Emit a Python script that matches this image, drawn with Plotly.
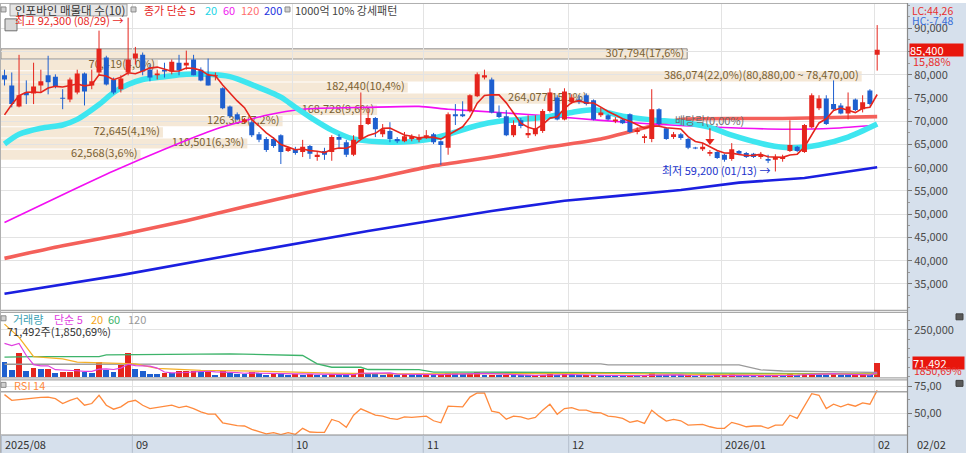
import plotly.graph_objects as go

# ---------------- data ----------------
month_labels = ["2025/08", "09", "10", "11", "12", "2026/01", "02"]
month_start = [0, 18, 40, 58, 78, 99, 120]
last_date_label = "02/02"

open_ = [79900, 77700, 73200, 76200, 76000, 77700, 79900, 79600, 75000, 74700,
         76200, 80300, 77700, 80500, 83700, 79000, 76900, 80500, 83500, 84300,
         81100, 79900, 81100, 80700, 82600, 82000, 83300, 81100, 79900, 79700,
         77100, 73200, 71500, 69800, 69800, 67200, 66200, 66200, 67000, 63600,
         64000, 63400, 64700, 62300, 63600, 63400, 66600, 65500, 62800, 66200,
         69400, 70700, 67200, 67900, 66200, 65700, 66200, 66000, 66400, 67200,
         65700, 64300, 71500, 71500, 72200, 75400, 79400, 79000, 71900, 71100,
         67000, 70200, 67000, 67200, 67900, 72200, 75100, 70400, 74100, 74700,
         75600, 74500, 71300, 71300, 70000, 70400, 71500, 67700, 66400, 66200,
         72600, 68500, 66600, 67200, 66200, 64300, 64000, 63000, 63400, 62800,
         61900, 63600, 63200, 63000, 62300, 61900, 61700, 61900, 63600, 64500,
         63400, 68700, 72800, 74900, 73700, 73400, 71700, 74700, 72600, 76600,
         84300]
high = [81100, 80500, 84300, 78800, 82600, 81100, 84100, 80100, 76900, 79400,
        81100, 80500, 81100, 89500, 84100, 79400, 79900, 92300, 86000, 84800,
        82200, 81100, 82600, 83300, 84300, 85200, 84300, 81600, 83500, 80500,
        77300, 73400, 71900, 70700, 70200, 67700, 66600, 66600, 67200, 64500,
        64500, 66000, 64900, 63600, 64300, 67000, 67200, 66000, 67000, 76200,
        72600, 70900, 69400, 69800, 66600, 67700, 67200, 67200, 68100, 67500,
        65900, 71900, 73700, 74300, 75800, 80500, 81100, 79400, 73400, 72400,
        70200, 70700, 71300, 71300, 72600, 77100, 75600, 77100, 75800, 75600,
        76000, 74700, 73000, 71500, 70900, 70700, 71700, 68700, 67200, 76900,
        72800, 68700, 67700, 67500, 66400, 64500, 65300, 63800, 63600, 63000,
        65300, 63800, 63400, 63200, 63400, 62800, 62900, 62800, 70200, 64700,
        69400, 76000, 75600, 75600, 78800, 73900, 76200, 74900, 75600, 76900,
        90700]
low = [77700, 73000, 73000, 73700, 73700, 76200, 75800, 77100, 72600, 74100,
       75800, 73400, 76900, 79900, 77700, 75800, 76200, 79900, 82200, 79900,
       78600, 79000, 79400, 80100, 79900, 81100, 79900, 78600, 77700, 78800,
       72600, 70700, 70200, 69600, 66600, 65500, 63400, 64300, 60800, 63400,
       62800, 62300, 61900, 61500, 61700, 61500, 64000, 62300, 62500, 66000,
       69200, 66600, 66600, 65500, 65300, 65500, 65700, 65500, 66200, 65100,
       60600, 62800, 69200, 70900, 71900, 75200, 79000, 71700, 70700, 66800,
       66600, 68500, 66400, 66800, 67500, 71900, 70200, 70200, 73700, 73700,
       73400, 70200, 70900, 70200, 69600, 69400, 67500, 67200, 65300, 65500,
       69000, 66000, 66200, 66000, 64000, 64000, 63600, 62500, 61900, 61300,
       61500, 62800, 62100, 62100, 61900, 61000, 59200, 61300, 63400, 63400,
       63200, 68500, 72400, 69200, 72400, 71500, 70400, 72200, 71900, 73400,
       80900]
close = [79000, 73700, 75600, 75600, 77500, 78600, 78400, 77500, 74900, 79000,
         80300, 76400, 78600, 85600, 77900, 76200, 79200, 83300, 84600, 80700,
         79400, 80300, 80700, 82800, 80900, 82600, 79900, 78800, 77700, 79900,
         72800, 71100, 70400, 70400, 67000, 66000, 63800, 64700, 63400, 64300,
         63200, 64500, 63000, 62800, 62800, 66600, 66000, 62800, 66000, 69200,
         70700, 68300, 68300, 66200, 65700, 66800, 66800, 66600, 67000, 65500,
         64900, 71500, 71100, 71100, 75600, 80100, 79900, 71900, 70900, 67000,
         69200, 69000, 67500, 68500, 72200, 76200, 70400, 76400, 75100, 74100,
         73700, 70400, 71900, 70400, 70400, 69600, 67700, 68100, 66800, 72600,
         69400, 66200, 67200, 66400, 64300, 64200, 64500, 63400, 62100, 61700,
         64000, 63000, 62300, 62300, 62800, 61500, 62300, 62300, 64900, 63600,
         69200, 75600, 74900, 69400, 72600, 71700, 73200, 72400, 74100, 73700,
         85400]
prior_close = [62600, 66000, 72000, 77250]   # closes just before the window (MA5 warm-up)

volume = [76000, 37000, 124000, 32000, 46000, 41000, 42000, 19000, 23000, 27000,
          41000, 27000, 19000, 80000, 36000, 23000, 64000, 124000, 41000, 32000,
          14000, 13000, 18000, 17000, 28000, 29000, 30000, 23000, 28000, 11000,
          28000, 18000, 14000, 13000, 23000, 18000, 11000, 17000, 14000, 11000,
          14000, 10000, 12000, 9000, 8000, 13000, 9000, 8000, 12000, 43000,
          17000, 13000, 10000, 12000, 8000, 13000, 11000, 9000, 10000, 8000,
          9000, 21000, 17000, 13000, 18000, 22000, 9000, 10000, 6000, 8000,
          7000, 5000, 4000, 6000, 11000, 14000, 8000, 12000, 6000, 5000,
          6000, 7000, 5000, 4000, 3500, 3000, 5000, 3500, 4500, 18000,
          8000, 5000, 4000, 3500, 4500, 3000, 3500, 3000, 4000, 4500,
          13000, 6000, 4500, 4000, 4500, 3500, 5500, 4500, 12000, 6000,
          17000, 18000, 10000, 8000, 21000, 7000, 6000, 7000, 10000, 3863,
          71492]
prior_volume = [97000, 64000, 357000, 291000]

rsi14 = [67.3, 62.0, 62.7, 63.5, 64.5, 64.8, 65.0, 63.6, 59.0, 62.0,
         64.2, 57.4, 59.0, 66.7, 57.4, 53.7, 55.9, 60.5, 62.0, 57.4,
         54.3, 55.2, 56.5, 57.4, 55.2, 56.5, 54.3, 51.2, 49.0, 49.0,
         41.0, 39.8, 38.3, 38.0, 34.9, 32.7, 30.6, 31.8, 30.0, 31.8,
         30.2, 35.8, 32.4, 32.1, 32.1, 44.1, 42.0, 36.8, 48.1, 54.0,
         51.2, 48.1, 47.2, 45.1, 44.2, 46.6, 46.0, 46.6, 47.2, 42.9,
         41.0, 56.5, 55.9, 55.9, 65.0, 68.8, 68.8, 51.9, 50.6, 44.4,
         47.2, 46.6, 44.4, 46.0, 52.8, 58.3, 49.0, 54.3, 55.2, 52.8,
         52.8, 50.6, 50.3, 47.2, 46.6, 45.1, 41.4, 42.9, 40.4, 52.8,
         47.2, 42.6, 44.1, 42.9, 38.9, 38.9, 39.5, 37.3, 35.8, 35.8,
         41.4, 39.5, 37.3, 38.0, 38.0, 35.8, 38.9, 38.9, 48.1, 45.1,
         56.5, 68.2, 66.7, 54.3, 58.3, 55.9, 58.3, 56.5, 59.5, 58.3,
         71.3]

# moving averages (index, value)
ma20_idx = [0, 2, 5, 8, 10, 13, 15, 17, 19, 22, 25, 28, 31, 34, 38, 40, 42, 45, 48, 53,
            58, 61, 65, 68, 74, 78, 81, 85, 89, 93, 97, 100, 105, 108, 112, 116, 120]
ma20_val = [65100, 67200, 68500, 69200, 70400, 73600, 76200, 77900, 79000, 79600,
            80100, 80100, 79600, 77900, 75200, 73000, 70900, 68100, 66200, 65500,
            66000, 67200, 69100, 70000, 70800, 71900, 72500, 71100, 70300, 69800,
            68700, 67000, 64900, 64300, 64900, 66600, 69400]
ma60_idx = [0, 8, 15, 22, 29, 36, 41, 50, 57, 61, 68, 75, 82, 89, 98, 107, 114, 120]
ma60_val = [48200, 54200, 59300, 64000, 68300, 71300, 72600, 73000, 73200, 72600,
            71900, 71100, 70200, 69400, 68700, 68300, 68500, 69200]
ma120_idx = [0, 8, 16, 25, 33, 42, 50, 59, 67, 75, 82, 89, 93, 101, 107, 114, 120]
ma120_val = [40500, 43200, 45600, 48600, 51600, 54800, 57400, 60400, 62300, 64500,
             66200, 69000, 70400, 70600, 70600, 70800, 71000]
ma200_idx = [0, 16, 33, 50, 67, 77, 84, 93, 101, 110, 120]
ma200_val = [32900, 36900, 41700, 46400, 50700, 52900, 53900, 55200, 56800, 57800, 60100]

vma20_idx = [0, 2, 4, 8, 10, 13, 18, 21, 27, 36, 45, 54, 65, 82, 96, 109, 120]
vma20_val = [280000, 209000, 106000, 94000, 76000, 73000, 67000, 43000, 32000, 27000,
             18000, 14000, 14000, 16000, 11000, 13000, 14000]
vma60_idx = [0, 4, 13, 14, 31, 41, 43, 45, 49, 50, 57, 59, 65, 82, 101, 120]
vma60_val = [103000, 106000, 106000, 115000, 121000, 112000, 67000, 49000, 49000, 37000,
             36000, 23000, 23000, 19000, 16000, 13000]
vma120_idx = [0, 82, 83, 101, 104, 107, 117, 120]
vma120_val = [65000, 67000, 62000, 62000, 35000, 29000, 23000, 21000]

# volume profile (매물대) bands
band_top = [85700, 83290, 80880, 78470, 76060, 73650, 71240, 68830, 66420, 64010]
band_bot = [83290, 80880, 78470, 76060, 73650, 71240, 68830, 66420, 64010, 61600]
band_vol = [307794, 70419, 386074, 182440, 264077, 168728, 126305, 72645, 110501, 62568]

high_date = "08/29"
low_date = "01/13"
dividend_idx = 97
dividend_text = "배당락(0,00%)"

# ---------------- helpers ----------------
W, H = 966, 453
ML, MR, MT, MB = 1, 59, 0, 18
PW, PH = W - ML - MR, H - MT - MB
XR = [-0.48, 124.1]
YR1 = [29420, 95450]
YR2 = [-5320, 340480]
YR3 = [29.6, 80.6]
FONT = "Noto Sans CJK KR"

RED = "#E5251D"
BLUE = "#1E5FCF"


def px2x(px):
    return (px - ML) / PW


def py2y(py):
    return (PH - (py - MT)) / PH


def price_at(py):
    # price value at a pixel row of the price panel (panel spans py 0..309)
    return YR1[1] - (py / 309.0) * (YR1[1] - YR1[0])


def kfmt(v, d=0, sep=True):
    s = f"{v:,.{d}f}" if sep else f"{v:.{d}f}"
    return s.replace(".", "#").replace("#", ",")


n = len(close)
idx = list(range(n))

# MA5 of closes / volumes
cl_all = prior_close + close
ma5 = [sum(cl_all[i:i + 5]) / 5 for i in range(n)]
vol_all = prior_volume + volume
vma5 = [sum(vol_all[i:i + 5]) / 5 for i in range(n)]

fig = go.Figure()

# band labels (drawn first so candles sit on top)
tot = sum(band_vol)
vmax = max(band_vol)
band_frac = [0.950 * v / vmax for v in band_vol]
lab_x, lab_y, lab_t = [], [], []
for t, b, v, f in zip(band_top, band_bot, band_vol, band_frac):
    txt = f"{v:,}({kfmt(v / tot * 100, 1)}%)"
    if v == vmax:
        txt += f"({kfmt(t, 2)} ~ {kfmt(b, 2)})"
    lab_x.append(XR[0] + (f - 3.0 / PW) * (XR[1] - XR[0]))
    lab_y.append((t + b) / 2)
    lab_t.append(txt)
fig.add_trace(go.Scatter(x=lab_x, y=lab_y, text=lab_t, mode="text",
                         textposition="middle left",
                         textfont=dict(family=FONT, size=11, color="#7A6133"),
                         hoverinfo="skip", xaxis="x", yaxis="y"))

# moving averages (price)
fig.add_trace(go.Scatter(x=ma200_idx, y=ma200_val, mode="lines",
                         line=dict(color="#1B1FE0", width=2.6), xaxis="x", yaxis="y"))
fig.add_trace(go.Scatter(x=ma120_idx, y=ma120_val, mode="lines",
                         line=dict(color="#F4605A", width=3.6, shape="spline", smoothing=0.6),
                         xaxis="x", yaxis="y"))
fig.add_trace(go.Scatter(x=ma60_idx, y=ma60_val, mode="lines",
                         line=dict(color="#F20FF2", width=1.6, shape="spline", smoothing=0.6),
                         xaxis="x", yaxis="y"))
fig.add_trace(go.Scatter(x=ma20_idx, y=ma20_val, mode="lines",
                         line=dict(color="#3EE6F0", width=5.5, shape="spline", smoothing=0.8),
                         xaxis="x", yaxis="y"))


def segs(ids, a, b, minlen=0):
    X, Y = [], []
    for i in ids:
        lo, hi = min(a[i], b[i]), max(a[i], b[i])
        if hi - lo < minlen:
            m = (hi + lo) / 2
            lo, hi = m - minlen / 2, m + minlen / 2
        X += [i, i, None]
        Y += [lo, hi, None]
    return X, Y


up = [i for i in idx if close[i] >= open_[i]]
dn = [i for i in idx if close[i] < open_[i]]
for ids, col in ((up, RED), (dn, BLUE)):
    X, Y = segs(ids, low, high)
    fig.add_trace(go.Scatter(x=X, y=Y, mode="lines", line=dict(color=col, width=1),
                             xaxis="x", yaxis="y", hoverinfo="skip"))
    X, Y = segs(ids, open_, close, minlen=220)
    fig.add_trace(go.Scatter(x=X, y=Y, mode="lines", line=dict(color=col, width=5),
                             xaxis="x", yaxis="y", hoverinfo="skip"))

fig.add_trace(go.Scatter(x=idx, y=ma5, mode="lines", line=dict(color=RED, width=1.6),
                         xaxis="x", yaxis="y"))

# dividend marker
fig.add_trace(go.Scatter(x=[dividend_idx, dividend_idx], y=[price_at(126), price_at(139)],
                         mode="lines", line=dict(color=RED, width=1.2), xaxis="x", yaxis="y"))
fig.add_trace(go.Scatter(x=[dividend_idx], y=[price_at(139)], mode="markers",
                         marker=dict(symbol="triangle-down", size=8, color=RED),
                         xaxis="x", yaxis="y"))

# volume panel
prev = [prior_volume[-1]] + volume[:-1]
vcol = [RED if v >= p else BLUE for v, p in zip(volume, prev)]
fig.add_trace(go.Bar(x=idx, y=volume, marker=dict(color=vcol, line=dict(width=0)),
                     width=0.8, xaxis="x2", yaxis="y2"))
fig.add_trace(go.Scatter(x=vma120_idx, y=vma120_val, mode="lines",
                         line=dict(color="#9A9A9A", width=1.3), xaxis="x2", yaxis="y2"))
fig.add_trace(go.Scatter(x=vma60_idx, y=vma60_val, mode="lines",
                         line=dict(color="#3DB36A", width=1.3), xaxis="x2", yaxis="y2"))
fig.add_trace(go.Scatter(x=vma20_idx, y=vma20_val, mode="lines",
                         line=dict(color="#F5B028", width=1.3), xaxis="x2", yaxis="y2"))
fig.add_trace(go.Scatter(x=idx, y=vma5, mode="lines",
                         line=dict(color="#E040E0", width=1.2), xaxis="x2", yaxis="y2"))

# RSI panel
fig.add_trace(go.Scatter(x=idx, y=rsi14, mode="lines",
                         line=dict(color="#FF8A3D", width=1.3), xaxis="x3", yaxis="y3"))

# ---------------- layout ----------------
gridc = "#E3E3E3"
mpos = [m - 0.42 for m in month_start]
xcommon = dict(range=XR, showgrid=True, gridcolor=gridc, gridwidth=1, tickmode="array",
               tickvals=mpos, showticklabels=False, ticks="", zeroline=False,
               showline=False, fixedrange=True, domain=[0, 1])
tickfont = dict(family=FONT, size=11, color="#4A4A4A")
ycommon = dict(side="right", showgrid=True, gridcolor=gridc, zeroline=False, showline=False,
               ticks="outside", ticklen=4, tickcolor="#777", tickfont=tickfont, fixedrange=True)

ptick = list(range(35000, 95000, 5000))
ptext = ["" if v == 85000 else f"{v:,}" for v in ptick]

fig.update_layout(
    width=W, height=H, margin=dict(l=ML, r=MR, t=MT, b=MB),
    paper_bgcolor="white", plot_bgcolor="white", showlegend=False,
    font=dict(family=FONT, size=11),
    bargap=0,
    xaxis=dict(**xcommon, anchor="y"),
    xaxis2=dict(**xcommon, anchor="y2", matches="x"),
    xaxis3=dict(**xcommon, anchor="y3", matches="x"),
    yaxis=dict(**ycommon, anchor="x", domain=[py2y(309), 1], range=YR1,
               tickmode="array", tickvals=ptick, ticktext=ptext,
               minor=dict(ticks="outside", ticklen=2, tickcolor="#999", dtick=2500,
                          showgrid=False)),
    yaxis2=dict(**ycommon, anchor="x2", domain=[py2y(377), py2y(312)], range=YR2,
                tickmode="array", tickvals=[250000], ticktext=["250,000"],
                minor=dict(ticks="outside", ticklen=2, tickcolor="#999", dtick=50000,
                           showgrid=False)),
    yaxis3=dict(**ycommon, anchor="x3", domain=[0, py2y(380)], range=YR3,
                tickmode="array", tickvals=[50, 75], ticktext=["50,00", "75,00"],
                minor=dict(ticks="outside", ticklen=2, tickcolor="#999", dtick=12.5,
                           showgrid=False)),
)

shapes = []
PANEL = "#D6E0EC"
# right axis panel and bottom date band
shapes.append(dict(type="rect", xref="paper", yref="paper", x0=px2x(907), x1=px2x(967),
                   y0=py2y(454), y1=py2y(0), fillcolor=PANEL, line=dict(width=0), layer="below"))
shapes.append(dict(type="rect", xref="paper", yref="paper", x0=px2x(0), x1=px2x(907),
                   y0=py2y(454), y1=py2y(435), fillcolor=PANEL, line=dict(width=0), layer="below"))
# volume-profile bands
last_close = close[-1]
for t, b, f in zip(band_top, band_bot, band_frac):
    bordered = b <= last_close < t
    shapes.append(dict(type="rect", xref="x domain", yref="y", x0=0, x1=f,
                       y0=b + 110, y1=t - 110, fillcolor="#F5E8D6",
                       line=dict(color="#8F8F8F", width=1) if bordered else dict(width=0),
                       layer="below"))
# RSI 70 reference
shapes.append(dict(type="line", xref="x3 domain", yref="y3", x0=0, x1=1, y0=70, y1=70,
                   line=dict(color="#A6A6A6", width=1.5)))
# panel separators
for py, c, w in ((0.5, "#B0B0B0", 1), (309.5, "#A8A8A8", 1.2), (311.5, "#A8A8A8", 1.2),
                 (377.5, "#A8A8A8", 1.2), (379.5, "#A8A8A8", 1.2), (435, "#8A8A8A", 1.2)):
    shapes.append(dict(type="line", xref="paper", yref="paper", x0=px2x(0), x1=px2x(907),
                       y0=py2y(py), y1=py2y(py), line=dict(color=c, width=w)))
shapes.append(dict(type="line", xref="paper", yref="paper", x0=px2x(907.5), x1=px2x(907.5),
                   y0=py2y(453), y1=py2y(0), line=dict(color="#8A8A8A", width=1.2)))
shapes.append(dict(type="line", xref="paper", yref="paper", x0=px2x(0.5), x1=px2x(0.5),
                   y0=py2y(453), y1=py2y(0), line=dict(color="#B0B0B0", width=1)))
# month separators in the date band
for m in mpos:
    shapes.append(dict(type="line", xref="x3", yref="paper", x0=m, x1=m,
                       y0=py2y(453), y1=py2y(435), line=dict(color="#B4BECC", width=1)))
# small legend icons
for (x0, y0) in ((1, 4), (131, 4), (285, 4), (1, 315), (1, 382)):
    shapes.append(dict(type="rect", xref="paper", yref="paper", x0=px2x(x0), x1=px2x(x0 + 5),
                       y0=py2y(y0 + 5), y1=py2y(y0), fillcolor="#D0D0D0",
                       line=dict(color="#8A8A8A", width=1)))
for (x0, y0) in ((956, 313), (956, 380)):
    shapes.append(dict(type="rect", xref="paper", yref="paper", x0=px2x(x0), x1=px2x(x0 + 7),
                       y0=py2y(y0 + 6), y1=py2y(y0), fillcolor="#5A5A5A",
                       line=dict(color="#404040", width=1)))
shapes.append(dict(type="rect", xref="paper", yref="paper", x0=px2x(10), x1=px2x(127),
                   y0=py2y(13), y1=py2y(1), fillcolor="#E6E6E6", line=dict(color="#A0A0A0", width=1)))
shapes.append(dict(type="rect", xref="paper", yref="paper", x0=px2x(5), x1=px2x(17),
                   y0=py2y(28), y1=py2y(16), fillcolor="#D8D8D8", line=dict(color="#707070", width=1)))
fig.update_layout(shapes=shapes)

ann = []


def A(text, px, py, color="#333", size=11, xanchor="left", **kw):
    d = dict(text=text, xref="paper", yref="paper", x=px2x(px), y=py2y(py), showarrow=False,
             xanchor=xanchor, yanchor="middle", font=dict(family=FONT, size=size, color=color))
    d.update(kw)
    ann.append(d)


# top legend
A("인포바인 매물대 수(10)", 13, 7, "#333", 11.5)
A("종가 단순 5", 142, 7, RED)
A("20", 203, 7, "#22D5E6")
A("60", 221, 7, "#F020F0")
A("120", 239, 7, "#FF6E6E")
A("200", 262, 7, "#2232E0")
A("1000억 10% 강세패턴", 293, 7, "#444")

# volume legend
A("거래량", 11, 318, "#3A9FB3")
A("단순 5", 52, 318, "#E040E0")
A("20", 89, 318, "#F5A623")
A("60", 106, 318, "#3DB36A")
A("120", 126, 318, "#999999")
vratio = volume[-1] / volume[-2] * 100
A(f"{volume[-1]:,}주({kfmt(vratio, 2)}%)", 5, 330, "#333")

# RSI legend
A("RSI 14", 12, 385, "#FF8A3D")

# high / low annotations
ih = max(idx, key=lambda i: high[i])
il = min(idx, key=lambda i: low[i])
ann.append(dict(text=f"최고 {high[ih]:,} ({high_date}) →", xref="x", yref="y", x=ih - 0.45,
                y=price_at(17), xanchor="right", yanchor="middle", showarrow=False,
                font=dict(family=FONT, size=11, color="#E8281E")))
ann.append(dict(text=f"최저 {low[il]:,} ({low_date}) →", xref="x", yref="y", x=il - 0.45,
                y=price_at(168), xanchor="right", yanchor="middle", showarrow=False,
                font=dict(family=FONT, size=11, color="#2233CC")))
ann.append(dict(text=dividend_text, xref="x", yref="y", x=dividend_idx, y=price_at(118),
                xanchor="center", yanchor="middle", showarrow=False,
                font=dict(family=FONT, size=11, color="#6E6E6E")))

# right panel texts
lc = (close[-1] / low[il] - 1) * 100
hc = (close[-1] / high[ih] - 1) * 100
A(f"LC:{kfmt(lc, 2)}", 910, 7.5, "#E83030", size=10.5)
A(f"HC:{kfmt(hc, 2)}", 910, 18, "#3A6FD8", size=10.5)
chg = (close[-1] / close[-2] - 1) * 100
ann.append(dict(text=f"{close[-1]:,}", xref="paper", yref="y", x=px2x(909), y=close[-1],
                xanchor="left", yanchor="middle", showarrow=False, align="left",
                width=53, height=12, bgcolor="#E8160C", borderpad=0,
                font=dict(family=FONT, size=11, color="white")))
A(f"{kfmt(chg, 2)}%", 911, 58, "#E83030")
ann.append(dict(text=f"{volume[-1]:,}", xref="paper", yref="y2", x=px2x(912), y=volume[-1],
                xanchor="left", yanchor="middle", showarrow=False, align="left",
                width=51, height=12, bgcolor="#E8160C", borderpad=0,
                font=dict(family=FONT, size=11, color="white")))
A(f"{kfmt(vratio, 2, sep=False)}%", 912, 370, "#E83030", size=10.5)

# date labels
for m, lab in zip(mpos, month_labels):
    ann.append(dict(text=lab, xref="x3", yref="paper", x=m + 0.2, y=py2y(444),
                    xanchor="left", yanchor="middle", showarrow=False,
                    font=dict(family=FONT, size=11, color="#333")))
A(last_date_label, 915, 444, "#333")

fig.update_layout(annotations=ann)
fig.write_html("out.html", config={"displayModeBar": False},
               post_script="document.body.style.margin='0';document.body.style.overflow='hidden';")
